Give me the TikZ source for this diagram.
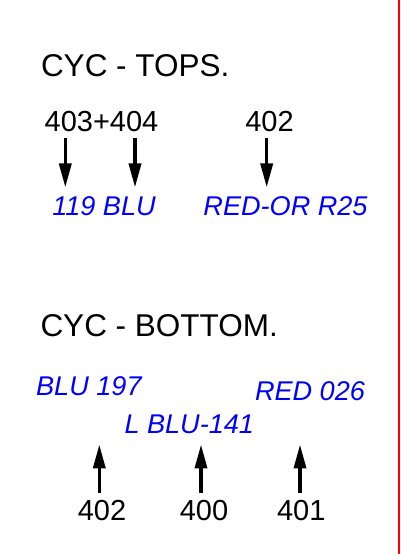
\documentclass[tikz,border=0pt]{standalone}
\usepackage{fontspec}
\setmainfont{Liberation Sans}
\definecolor{myblue}{RGB}{0,0,255}
\definecolor{myred}{RGB}{255,0,0}
\usetikzlibrary{arrows.meta}

\begin{document}
\begin{tikzpicture}[x=1pt,y=-1pt,
        every node/.style={inner sep=0pt},
        titlenode/.style={anchor=base west,font=\fontsize{31.5}{36}\selectfont},
        numnode/.style={anchor=base,font=\fontsize{29}{34}\selectfont},
        colnode/.style={anchor=base,text=myblue,font=\fontsize{27.1}{32}\selectfont\itshape},
        downarrow/.style={-{Triangle[length=24pt,width=12pt]},line width=3.5pt,
            shorten <=6.3pt,shorten >=8.4pt},
        uparrow/.style={-{Triangle[length=24pt,width=12pt]},line width=3.5pt,
            shorten <=6.5pt,shorten >=10.7pt}
        ]
        \useasboundingbox (0,0) rectangle (401,554);

        % the tops
        \node[titlenode] (tops) at (40.8,76) {CYC - TOPS.};
        \node[numnode] (t403) at (101.5,131.7) {403+404};
        \node[numnode] (t402) at (269.5,131.7) {402};
        \node[colnode] (c119) at (104,215) {119 BLU};
        \node[colnode] (cred) at (285.5,215) {RED-OR R25};

        % the bottom
        \node[titlenode] (bottom) at (40.3,336) {CYC - BOTTOM.};
        \node[colnode] (cblu) at (88.9,395) {BLU 197};
        \node[colnode] (cred2) at (310,400.7) {RED 026};
        \node[colnode] (clblu) at (189.3,433.3) {L BLU-141};
        \node[numnode] (b402) at (102,520) {402};
        \node[numnode] (b400) at (204,520) {400};
        \node[numnode] (b401) at (301.3,520) {401};

        % the arrows
        \draw[downarrow] ([xshift=-36.2pt]t403.south) -- ([xshift=-36.2pt]t403.south |- c119.north);
        \draw[downarrow] ([xshift=33.5pt]t403.south) -- ([xshift=33.5pt]t403.south |- c119.north);
        \draw[downarrow] ([xshift=-2.8pt]t402.south) -- ([xshift=-2.8pt]t402.south |- cred.north);
        \draw[uparrow] ([xshift=-2.7pt]b402.north) -- ([xshift=-2.7pt]b402.north |- clblu.south);
        \draw[uparrow] ([xshift=-3pt]b400.north) -- ([xshift=-3pt]b400.north |- clblu.south);
        \draw[uparrow] ([xshift=-1.3pt]b401.north) -- ([xshift=-1.3pt]b401.north |- clblu.south);

        % the border
        \draw[myred,line width=2pt] (398.5,0) -- (398.5,554);
\end{tikzpicture}
\end{document}
